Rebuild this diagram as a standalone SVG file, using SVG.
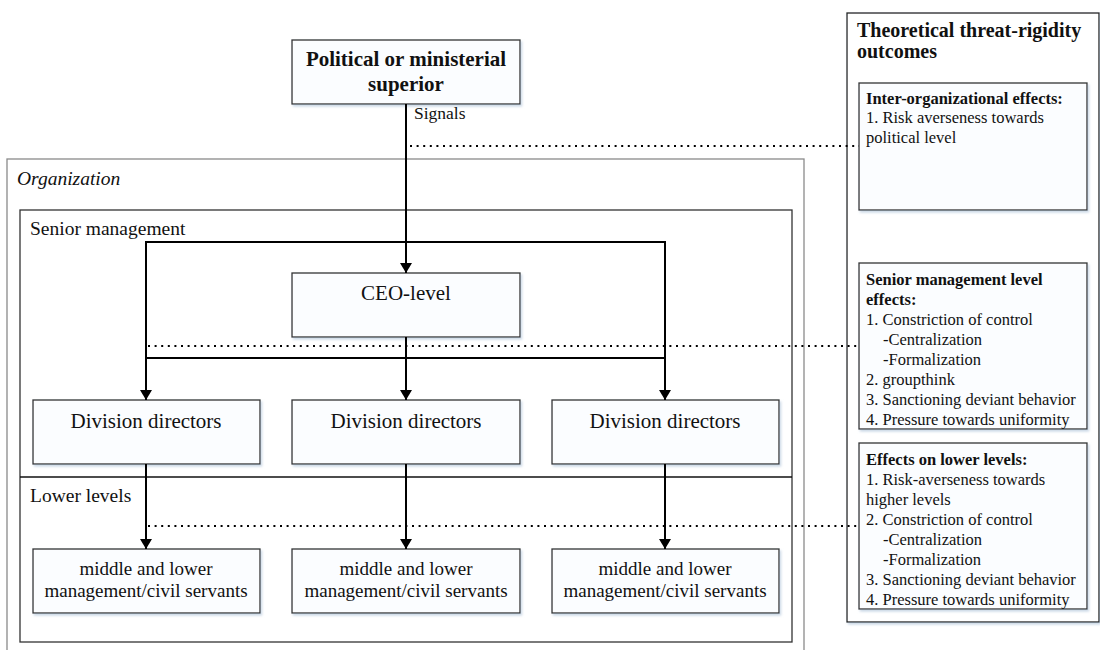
<svg xmlns="http://www.w3.org/2000/svg" width="1100" height="650" viewBox="0 0 1100 650">
<defs>
<filter id="sh" x="-5%" y="-5%" width="115%" height="120%">
<feDropShadow dx="1.5" dy="2" stdDeviation="1.2" flood-color="#a9bfd6" flood-opacity="0.6"/>
</filter>
<marker id="ah" viewBox="0 0 10 12" refX="10" refY="6" markerWidth="10" markerHeight="12" markerUnits="userSpaceOnUse" orient="auto">
<path d="M0,0 L10,6 L0,12 Z" fill="#000"/>
</marker>
<style>
.box{fill:#fbfdff;stroke:#333;stroke-width:1.3;filter:url(#sh)}
.t{font-family:"Liberation Serif","Times New Roman",serif;fill:#111}
.c{text-anchor:middle}
.ln{fill:none;stroke:#000;stroke-width:2}
.arr{fill:none;stroke:#000;stroke-width:2;marker-end:url(#ah)}
.dot{fill:none;stroke:#000;stroke-width:2;stroke-dasharray:2 4.6}
.p{font-size:16.5px}
</style>
</defs>
<rect width="1100" height="650" fill="#fff"/>

<g id="organization">
<rect x="7" y="159" width="797" height="500" fill="none" stroke="#8a8a8a" stroke-width="1.3"/>
<text class="t" x="17" y="185" font-size="19.5" font-style="italic">Organization</text>
</g>
<g id="senior-management">
<rect x="20" y="210" width="772" height="432" fill="none" stroke="#333" stroke-width="1.3"/>
<text class="t" x="30" y="235" font-size="19.5">Senior management</text>
</g>
<g id="lower-levels">
<line x1="20" y1="477" x2="792" y2="477" stroke="#111" stroke-width="1.3"/>
<text class="t" x="30" y="502" font-size="19.5">Lower levels</text>
</g>

<g id="outcomes-panel">
<rect x="847" y="13" width="252" height="609" fill="#fff" stroke="#222" stroke-width="1.3" filter="url(#sh)"/>
<text class="t" x="857" y="37" font-size="20" font-weight="bold">Theoretical threat-rigidity</text>
<text class="t" x="857" y="58" font-size="20" font-weight="bold">outcomes</text>
</g>

<g id="political">
<rect class="box" x="292" y="40" width="228" height="64"/>
<text class="t c" x="406" y="66" font-size="21" font-weight="bold">Political or ministerial</text>
<text class="t c" x="406" y="91" font-size="21" font-weight="bold">superior</text>
</g>
<g id="ceo">
<rect class="box" x="292" y="273" width="228" height="64"/>
<text class="t c" x="406" y="300" font-size="21">CEO-level</text>
</g>
<g id="div1">
<rect class="box" x="33" y="400" width="227" height="64"/>
<text class="t c" x="146" y="428" font-size="21">Division directors</text>
</g>
<g id="div2">
<rect class="box" x="292" y="400" width="228" height="64"/>
<text class="t c" x="406" y="428" font-size="21">Division directors</text>
</g>
<g id="div3">
<rect class="box" x="552" y="400" width="227" height="64"/>
<text class="t c" x="665" y="428" font-size="21">Division directors</text>
</g>
<g id="low1">
<rect class="box" x="33" y="549" width="227" height="64"/>
<text class="t c" x="146" y="575" font-size="19">middle and lower</text>
<text class="t c" x="146" y="597" font-size="19">management/civil servants</text>
</g>
<g id="low2">
<rect class="box" x="292" y="549" width="228" height="64"/>
<text class="t c" x="406" y="575" font-size="19">middle and lower</text>
<text class="t c" x="406" y="597" font-size="19">management/civil servants</text>
</g>
<g id="low3">
<rect class="box" x="552" y="549" width="227" height="64"/>
<text class="t c" x="665" y="575" font-size="19">middle and lower</text>
<text class="t c" x="665" y="597" font-size="19">management/civil servants</text>
</g>

<g id="inter-org-effects">
<rect class="box" x="859" y="83" width="228" height="127"/>
<text class="t p" x="866" y="104" font-weight="bold">Inter-organizational effects:</text>
<text class="t p" x="866" y="123">1. Risk averseness towards</text>
<text class="t p" x="866" y="143">political level</text>
</g>
<g id="senior-effects">
<rect class="box" x="859" y="263" width="228" height="166"/>
<text class="t p">
<tspan x="866" y="285" font-weight="bold">Senior management level</tspan>
<tspan x="866" y="305" font-weight="bold">effects:</tspan>
<tspan x="866" y="325">1. Constriction of control</tspan>
<tspan x="883" y="345">-Centralization</tspan>
<tspan x="883" y="365">-Formalization</tspan>
<tspan x="866" y="385">2. groupthink</tspan>
<tspan x="866" y="405">3. Sanctioning deviant behavior</tspan>
<tspan x="866" y="425">4. Pressure towards uniformity</tspan>
</text>
</g>
<g id="lower-effects">
<rect class="box" x="859" y="443" width="228" height="166"/>
<text class="t p">
<tspan x="866" y="465" font-weight="bold">Effects on lower levels:</tspan>
<tspan x="866" y="485">1. Risk-averseness towards</tspan>
<tspan x="866" y="505">higher levels</tspan>
<tspan x="866" y="525">2. Constriction of control</tspan>
<tspan x="883" y="545">-Centralization</tspan>
<tspan x="883" y="565">-Formalization</tspan>
<tspan x="866" y="585">3. Sanctioning deviant behavior</tspan>
<tspan x="866" y="605">4. Pressure towards uniformity</tspan>
</text>
</g>

<g id="connectors">
<line class="arr" x1="406" y1="104" x2="406" y2="273"/>
<text class="t" x="414" y="119" font-size="17.5">Signals</text>
<polyline class="ln" points="146,400 146,242 665,242 665,400"/>
<line class="arr" x1="146" y1="300" x2="146" y2="400"/>
<line class="arr" x1="665" y1="300" x2="665" y2="400"/>
<line class="ln" x1="146" y1="358" x2="665" y2="358"/>
<line class="arr" x1="406" y1="337" x2="406" y2="400"/>
<line class="arr" x1="146" y1="464" x2="146" y2="549"/>
<line class="arr" x1="406" y1="464" x2="406" y2="549"/>
<line class="arr" x1="665" y1="464" x2="665" y2="549"/>
<line class="dot" x1="410" y1="146" x2="859" y2="146"/>
<line class="dot" x1="148" y1="346" x2="859" y2="346"/>
<line class="dot" x1="148" y1="526" x2="859" y2="526"/>
</g>
</svg>
